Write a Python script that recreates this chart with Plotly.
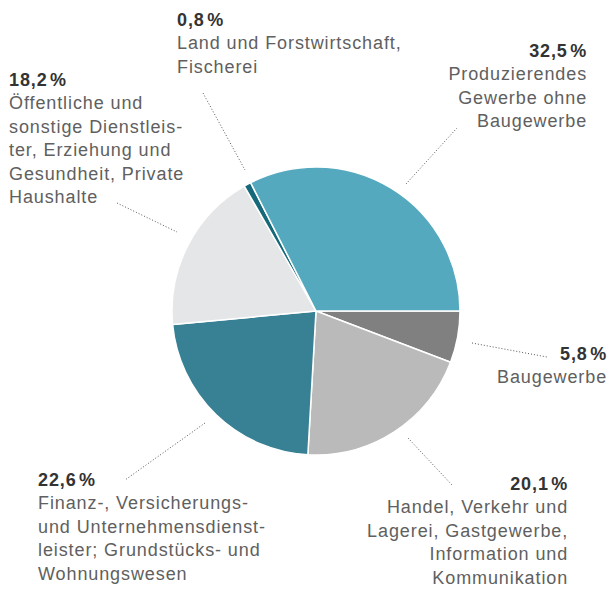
import plotly.graph_objects as go

# Anteile an der Bruttowertschöpfung (in Prozent), im Uhrzeigersinn ab 3 Uhr
sectors = [
    "Baugewerbe",
    "Handel, Verkehr und Lagerei, Gastgewerbe, Information und Kommunikation",
    "Finanz-, Versicherungs- und Unternehmensdienstleister; Grundstücks- und Wohnungswesen",
    "Öffentliche und sonstige Dienstleister, Erziehung und Gesundheit, Private Haushalte",
    "Land und Forstwirtschaft, Fischerei",
    "Produzierendes Gewerbe ohne Baugewerbe",
]
shares = [5.8, 20.1, 22.6, 18.2, 0.8, 32.5]
colors = ["#7f807f", "#bababa", "#388093", "#e5e6e8", "#16697a", "#55a9bf"]

# Beschriftungen mit Zeilenumbrüchen
label_lines = [
    ["Baugewerbe"],
    ["Handel, Verkehr und", "Lagerei, Gastgewerbe,", "Information und", "Kommunikation"],
    ["Finanz-, Versicherungs-", "und Unternehmensdienst-", "leister; Grundstücks- und", "Wohnungswesen"],
    ["Öffentliche und", "sonstige Dienstleis-", "ter, Erziehung und", "Gesundheit, Private", "Haushalte"],
    ["Land und Forstwirtschaft,", "Fischerei"],
    ["Produzierendes", "Gewerbe ohne", "Baugewerbe"],
]

W, H = 611, 590


def px(x):
    return x / W


def py(y):
    return 1 - y / H


# Platzierung der Beschriftungen (Pixel): x, y-oben, Ausrichtung
label_pos = [
    (608, 343, "right"),
    (569, 473, "right"),
    (37, 469, "left"),
    (8, 69, "left"),
    (176, 9, "left"),
    (588, 40, "right"),
]

# Hinweislinien (Pixel): Start und Ende
leaders = [
    ((472, 343), (547, 357)),
    ((408, 438), (452, 485)),
    ((205, 423), (125, 480)),
    ((117, 203), (177, 232)),
    ((203, 93), (245, 170)),
    ((406, 184), (457, 128)),
]

fig = go.Figure(
    go.Pie(
        labels=sectors,
        values=shares,
        marker=dict(colors=colors, line=dict(color="#ffffff", width=1.5)),
        sort=False,
        direction="clockwise",
        rotation=90,
        textinfo="none",
        hoverinfo="label+percent",
        showlegend=False,
        domain=dict(x=[px(172), px(460)], y=[py(455), py(167)]),
    )
)

for share, lines, (x, y, side) in zip(shares, label_lines, label_pos):
    value = f"{share:.1f}".replace(".", ",") + "\u200a%"
    text = f"<b><span style='color:#333333'>{value}</span></b><br>" + "<br>".join(lines)
    fig.add_annotation(
        x=px(x),
        y=py(y),
        xref="paper",
        yref="paper",
        xanchor=side,
        yanchor="top",
        align=side,
        showarrow=False,
        text=text,
        font=dict(family="Liberation Sans", size=18, color="#606060"),
        borderpad=0,
    )

for (x0, y0), (x1, y1) in leaders:
    fig.add_shape(
        type="line",
        xref="paper",
        yref="paper",
        x0=px(x0),
        y0=py(y0),
        x1=px(x1),
        y1=py(y1),
        line=dict(color="#555555", width=1, dash="1px,2px"),
    )

fig.update_layout(
    width=W,
    height=H,
    margin=dict(l=0, r=0, t=0, b=0),
    paper_bgcolor="#ffffff",
    plot_bgcolor="#ffffff",
)

# leicht gesperrte Beschriftungen
spacing_css = (
    "var s=document.createElement('style');"
    "s.textContent='.annotation-text{letter-spacing:0.9px}';"
    "document.head.appendChild(s);"
)

fig.write_html("out.html", post_script=spacing_css)
